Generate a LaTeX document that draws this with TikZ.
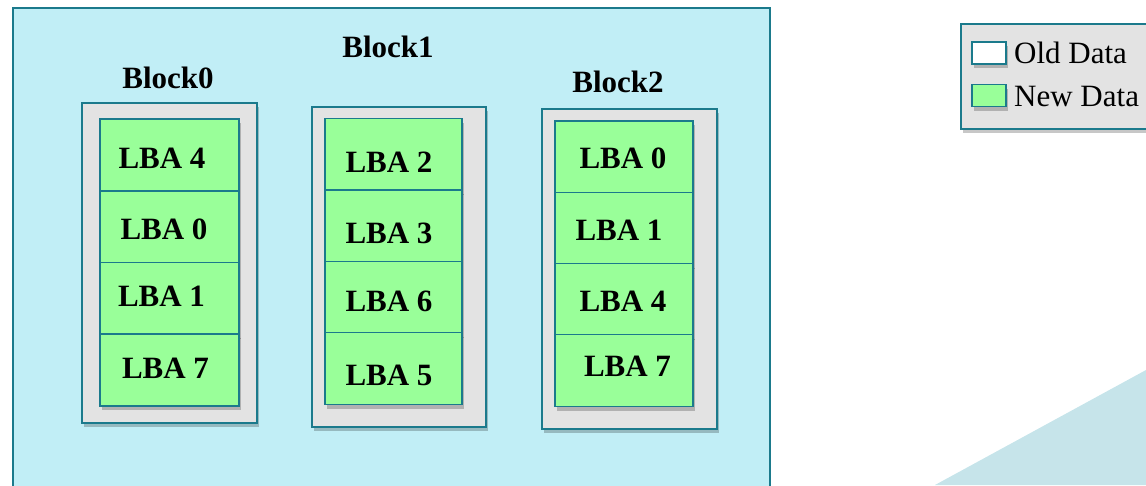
\documentclass[tikz,border=0pt]{standalone}
\usepackage{fontspec}
\setmainfont{Liberation Serif}
\usetikzlibrary{shadows}
\definecolor{outerfill}{HTML}{C1EEF6}
\definecolor{teal2}{HTML}{1B7A8C}
\definecolor{grayfill}{HTML}{E3E3E3}
\definecolor{greenfill}{HTML}{99FF99}
\definecolor{trifill}{HTML}{C6E4EA}
\tikzset{
  shd/.style={drop shadow={shadow xshift=2pt, shadow yshift=-4pt, opacity=0.22, fill=black}},
  blockbox/.style={draw=teal2, line width=1.5pt, fill=grayfill, shd, minimum width=175pt, minimum height=320pt, inner sep=0pt},
  cell/.style={draw=teal2, line width=1.5pt, fill=greenfill, shd, minimum width=139pt, minimum height=72pt, inner sep=0pt},
  ctext/.style={font=\fontsize{31}{36}\selectfont\bfseries, inner sep=0pt},
  blabel/.style={font=\fontsize{31}{36}\selectfont\bfseries, inner sep=0pt},
  legtext/.style={font=\fontsize{31}{36}\selectfont, inner sep=0pt, anchor=west},
  swatch/.style={draw=teal2, line width=1.5pt, shd, minimum width=34pt, minimum height=22pt, inner sep=0pt},
}
\begin{document}
\begin{tikzpicture}[x=1pt,y=-1pt]
\useasboundingbox (0,0) rectangle (1146,485);
\clip (0,0) rectangle (1146,485);
% background triangle
\fill[trifill] (935,485) -- (1146,370) -- (1146,485) -- cycle;
% outer area
\node[draw=teal2, line width=1.5pt, fill=outerfill, minimum width=757pt, minimum height=500pt, inner sep=0pt, anchor=north west] (outer) at (12,7) {};
% blocks
\node[blockbox] (b0) at (169.5,263) {};
\node[blockbox, minimum width=174pt] (b1) at (399,267) {};
\node[blockbox] (b2) at (629.5,269) {};
\node[blabel] (l0) at (168,78) {Block0};
\node[blabel] (l1) at (388,47) {Block1};
\node[blabel] (l2) at (618,82) {Block2};
% cells block0
\node[cell] (c00) at (169.5,155) {};
\node[cell] (c01) at (169.5,227) {};
\node[cell] (c02) at (169.5,298.5) {};
\node[cell] (c03) at (169.5,370) {};
% block1
\node[cell, minimum width=137pt] (c10) at (393.5,154.5) {};
\node[cell, minimum width=137pt] (c11) at (393.5,226) {};
\node[cell, minimum width=137pt] (c12) at (393.5,297.5) {};
\node[cell, minimum width=137pt] (c13) at (393.5,368.5) {};
% block2
\node[cell, minimum width=138pt] (c20) at (624,157) {};
\node[cell, minimum width=138pt] (c21) at (624,228.5) {};
\node[cell, minimum width=138pt] (c22) at (624,299.5) {};
\node[cell, minimum width=138pt] (c23) at (624,370.5) {};
% cell texts
\node[ctext] (t00) at (162,158) {LBA 4};
\node[ctext] (t01) at (164,229.5) {LBA 0};
\node[ctext] (t02) at (161.5,296.5) {LBA 1};
\node[ctext] (t03) at (165.5,368.5) {LBA 7};
\node[ctext] (t10) at (389,162) {LBA 2};
\node[ctext] (t11) at (389,233.5) {LBA 3};
\node[ctext] (t12) at (389,301.5) {LBA 6};
\node[ctext] (t13) at (389,375) {LBA 5};
\node[ctext] (t20) at (623,158.5) {LBA 0};
\node[ctext] (t21) at (619,230) {LBA 1};
\node[ctext] (t22) at (623,301.5) {LBA 4};
\node[ctext] (t23) at (627.5,366.5) {LBA 7};
% legend
\node[draw=teal2, line width=1.5pt, fill=grayfill, shd, minimum width=200pt, minimum height=105pt, inner sep=0pt, anchor=north west] (leg) at (960,23) {};
\node[swatch, fill=white] (s0) at (989,53) {};
\node[swatch, fill=greenfill] (s1) at (989,95.5) {};
\node[legtext] (lt0) at (1014,53) {Old Data};
\node[legtext] (lt1) at (1014,96) {New Data};
\end{tikzpicture}
\end{document}
